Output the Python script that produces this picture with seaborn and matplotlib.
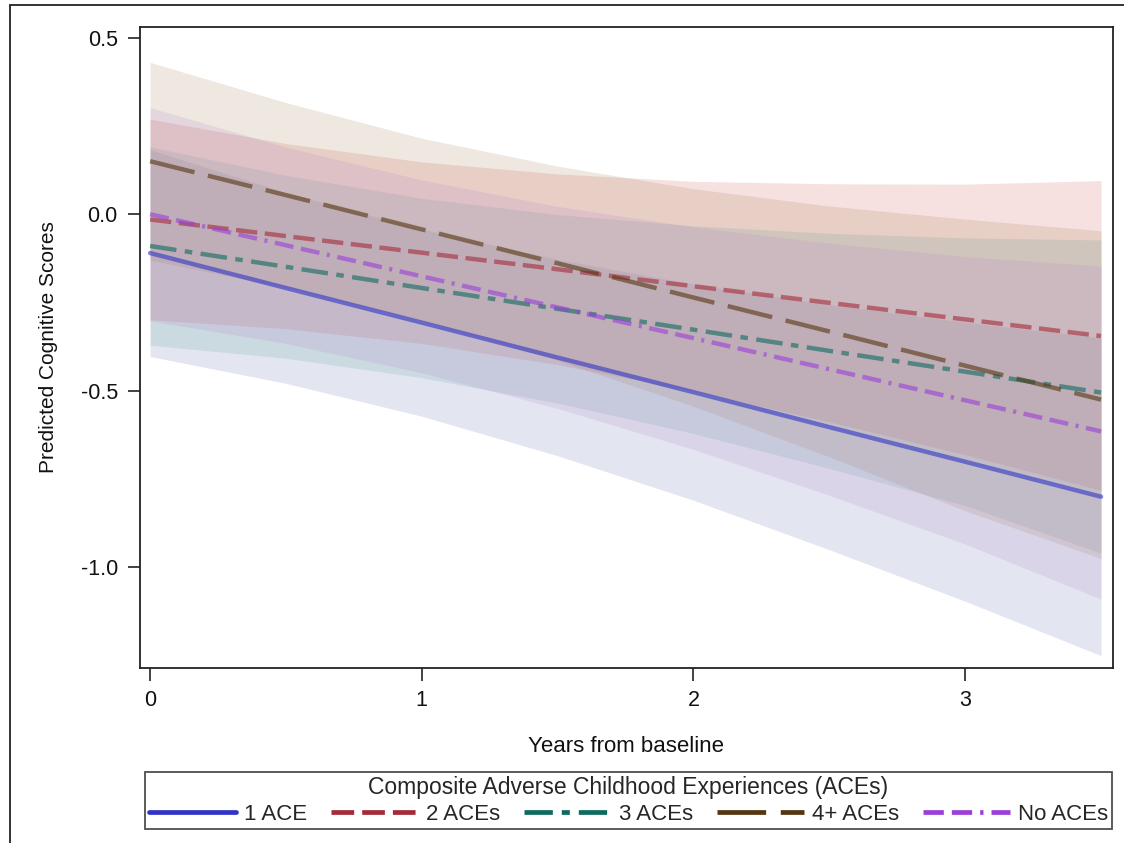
import numpy as np
import pandas as pd
import matplotlib
matplotlib.use("Agg")
import matplotlib.pyplot as plt
from matplotlib.lines import Line2D
from matplotlib.patches import Rectangle
import seaborn as sns

# ---- data ----
years = [0, 0.5, 1, 1.5, 2, 2.5, 3, 3.5]
groups = ["1 ACE", "2 ACEs", "3 ACEs", "4+ ACEs", "No ACEs"]

pred_1 = [-0.110, -0.209, -0.307, -0.406, -0.504, -0.603, -0.701, -0.800]
upper_1 = [0.183, 0.061, -0.042, -0.128, -0.198, -0.256, -0.306, -0.350]
lower_1 = [-0.403, -0.479, -0.572, -0.684, -0.810, -0.950, -1.096, -1.250]

pred_2 = [-0.015, -0.062, -0.109, -0.156, -0.204, -0.251, -0.298, -0.345]
upper_2 = [0.269, 0.200, 0.148, 0.114, 0.093, 0.086, 0.085, 0.095]
lower_2 = [-0.299, -0.324, -0.366, -0.426, -0.501, -0.588, -0.681, -0.782]

pred_3 = [-0.090, -0.149, -0.209, -0.268, -0.327, -0.387, -0.446, -0.505]
upper_3 = [0.191, 0.110, 0.045, -0.001, -0.033, -0.054, -0.067, -0.073]
lower_3 = [-0.371, -0.408, -0.463, -0.535, -0.621, -0.720, -0.825, -0.960]

pred_4 = [0.150, 0.054, -0.043, -0.139, -0.236, -0.332, -0.429, -0.525]
upper_4 = [0.430, 0.316, 0.215, 0.136, 0.072, 0.023, -0.014, -0.047]
lower_4 = [-0.130, -0.208, -0.301, -0.414, -0.544, -0.687, -0.840, -0.975]

pred_0 = [0.000, -0.088, -0.176, -0.264, -0.351, -0.439, -0.527, -0.615]
upper_0 = [0.302, 0.190, 0.097, 0.022, -0.036, -0.082, -0.120, -0.147]
lower_0 = [-0.302, -0.366, -0.449, -0.550, -0.666, -0.796, -0.934, -1.090]

y_ticks = [0.5, 0.0, -0.5, -1.0]
x_ticks = [0, 1, 2, 3]

preds = [pred_1, pred_2, pred_3, pred_4, pred_0]
uppers = [upper_1, upper_2, upper_3, upper_4, upper_0]
lowers = [lower_1, lower_2, lower_3, lower_4, lower_0]

line_colors = ["#2F34C6", "#A52A38", "#0E6A5E", "#55350F", "#9B3FD8"]
fill_colors = ["#6F7EB3", "#D05B5B", "#66A5A0", "#A9865B", "#B689CD"]
dash_map = {
    "1 ACE": "",
    "2 ACEs": (4.8, 1.7),
    "3 ACEs": (6.0, 1.9, 1.7, 1.9),
    "4+ ACEs": (10.3, 3.1),
    "No ACEs": (4.3, 1.7, 4.3, 1.7, 0.7, 1.7),
}

df = pd.DataFrame({
    "Years": np.concatenate([years] * len(groups)),
    "Pred": np.concatenate(preds),
    "Group": np.repeat(groups, len(years)),
})

sns.set_theme(style="white")
plt.rcParams["font.family"] = ["Liberation Sans", "DejaVu Sans"]
plt.rcParams["axes.unicode_minus"] = False

W, H = 1124, 843
fig = plt.figure(figsize=(W / 100, H / 100), dpi=100)
ax = fig.add_axes([140 / W, 1 - 668 / H, (1113 - 140) / W, (668 - 27) / H])

for g, up, lo, fc in zip(groups, uppers, lowers, fill_colors):
    ax.fill_between(years, lo, up, color=fc, alpha=0.19, linewidth=0, zorder=1)

sns.lineplot(data=df, x="Years", y="Pred", hue="Group", style="Group",
             hue_order=groups, style_order=groups,
             palette=dict(zip(groups, line_colors)), dashes=dash_map,
             linewidth=3.2, alpha=0.6, ax=ax, legend=False, zorder=3)

ax.set_xlim(-0.037, 3.544)
ax.set_ylim(-1.285, 0.53)
ax.set_xticks(x_ticks)
ax.set_xticklabels([str(t) for t in x_ticks])
ax.set_yticks(y_ticks)
ax.set_yticklabels([f"{t:.1f}" for t in y_ticks])
ax.tick_params(axis="both", direction="out", length=9, width=1.2,
               color="#222222", labelsize=15.5, labelcolor="#111111", pad=7,
               bottom=True, left=True)
for s in ax.spines.values():
    s.set_color("#222222")
    s.set_linewidth(1.3)
ax.grid(False)
ax.set_xlabel("Years from baseline", fontsize=16, color="#111111", labelpad=18)
ax.set_ylabel("Predicted Cognitive Scores", fontsize=15, color="#111111", labelpad=16)

handles = [Line2D([0], [0], color=c, linewidth=3.4,
                  linestyle=("-" if dash_map[g] == "" else (0, dash_map[g])))
           for g, c in zip(groups, line_colors)]
leg = fig.legend(handles, groups, ncol=5, loc="upper center",
                 bbox_to_anchor=(628.5 / W, 1 - 772 / H),
                 title="Composite Adverse Childhood Experiences (ACEs)",
                 fontsize=16, title_fontsize=16.5, frameon=True, fancybox=False,
                 handlelength=3.9, handletextpad=0.35, columnspacing=1.1,
                 borderpad=0.2, labelspacing=0.2, borderaxespad=0)
leg.get_frame().set_edgecolor("#222222")
leg.get_frame().set_linewidth(1.3)

fig.patches.append(Rectangle((10 / W, -0.05), 1.2, 1 - 5 / H + 0.05,
                             transform=fig.transFigure, fill=False,
                             edgecolor="#222222", linewidth=1.3))

fig.savefig("out.png", dpi=100)
